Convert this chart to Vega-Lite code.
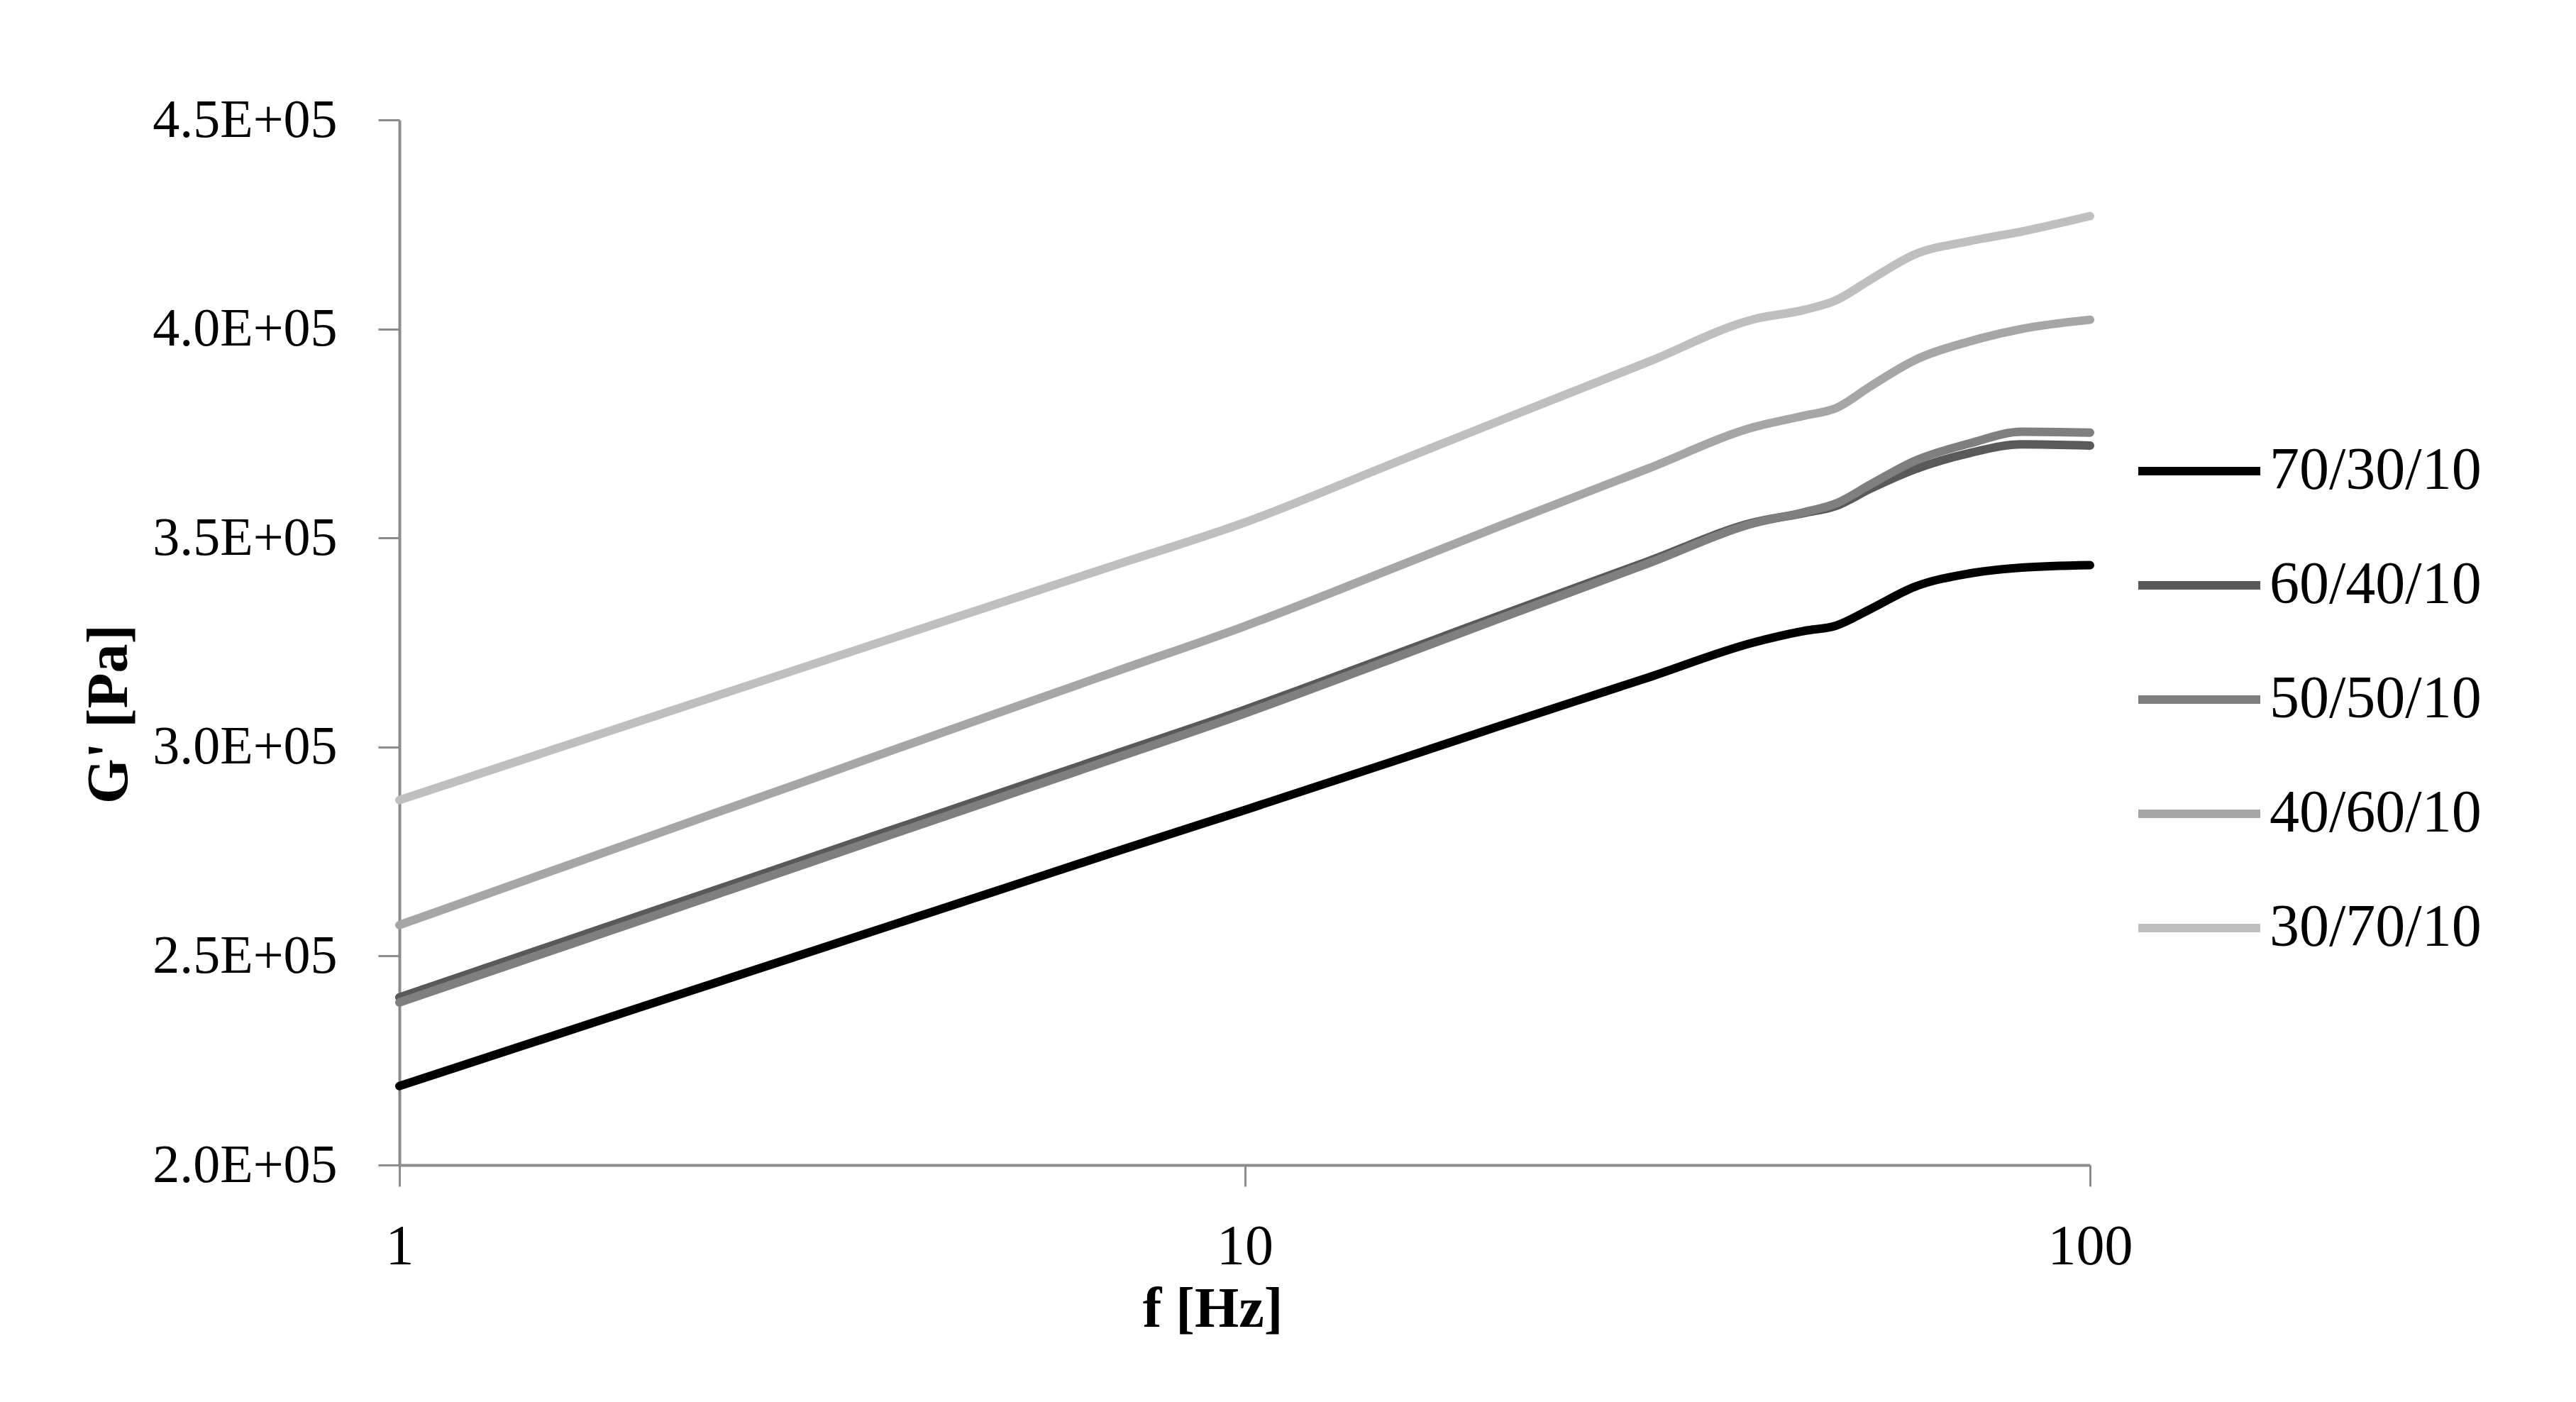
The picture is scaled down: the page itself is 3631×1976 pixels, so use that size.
{
  "$schema": "https://vega.github.io/schema/vega-lite/v6.json",
  "autosize": {"type": "none"},
  "width": 2383,
  "height": 1473,
  "padding": {"left": 563, "top": 169, "right": 685, "bottom": 334},
  "background": "white",
  "config": {
    "view": {"stroke": null},
    "font": "Liberation Serif",
    "axis": {
      "grid": false,
      "domainColor": "#8c8c8c",
      "domainWidth": 4,
      "tickColor": "#8c8c8c",
      "tickWidth": 3,
      "tickSize": 30,
      "labelFont": "Liberation Serif",
      "labelFontSize": 80,
      "labelColor": "black",
      "labelLimit": 1000,
      "titleFont": "Liberation Serif",
      "titleFontSize": 82,
      "titleFontWeight": "bold",
      "titleColor": "black"
    }
  },
  "data": {
    "values": [
      {"f": 1, "G": 218900, "s": "70/30/10"},
      {"f": 2, "G": 238800, "s": "70/30/10"},
      {"f": 3, "G": 250400, "s": "70/30/10"},
      {"f": 5, "G": 265100, "s": "70/30/10"},
      {"f": 7, "G": 274800, "s": "70/30/10"},
      {"f": 10, "G": 284900, "s": "70/30/10"},
      {"f": 15, "G": 296600, "s": "70/30/10"},
      {"f": 20, "G": 305000, "s": "70/30/10"},
      {"f": 30, "G": 316600, "s": "70/30/10"},
      {"f": 40, "G": 325000, "s": "70/30/10"},
      {"f": 46, "G": 327800, "s": "70/30/10"},
      {"f": 50, "G": 329000, "s": "70/30/10"},
      {"f": 55, "G": 333000, "s": "70/30/10"},
      {"f": 62, "G": 338300, "s": "70/30/10"},
      {"f": 72, "G": 341500, "s": "70/30/10"},
      {"f": 83, "G": 342900, "s": "70/30/10"},
      {"f": 100, "G": 343500, "s": "70/30/10"},

      {"f": 1, "G": 240100, "s": "60/40/10"},
      {"f": 2, "G": 260800, "s": "60/40/10"},
      {"f": 3, "G": 272900, "s": "60/40/10"},
      {"f": 5, "G": 288200, "s": "60/40/10"},
      {"f": 7, "G": 298200, "s": "60/40/10"},
      {"f": 10, "G": 308900, "s": "60/40/10"},
      {"f": 15, "G": 322000, "s": "60/40/10"},
      {"f": 20, "G": 331400, "s": "60/40/10"},
      {"f": 30, "G": 344400, "s": "60/40/10"},
      {"f": 40, "G": 353700, "s": "60/40/10"},
      {"f": 46, "G": 356000, "s": "60/40/10"},
      {"f": 50, "G": 357600, "s": "60/40/10"},
      {"f": 55, "G": 361800, "s": "60/40/10"},
      {"f": 62, "G": 366400, "s": "60/40/10"},
      {"f": 72, "G": 370300, "s": "60/40/10"},
      {"f": 83, "G": 372400, "s": "60/40/10"},
      {"f": 100, "G": 372100, "s": "60/40/10"},

      {"f": 1, "G": 238900, "s": "50/50/10"},
      {"f": 2, "G": 259600, "s": "50/50/10"},
      {"f": 3, "G": 271800, "s": "50/50/10"},
      {"f": 5, "G": 287100, "s": "50/50/10"},
      {"f": 7, "G": 297200, "s": "50/50/10"},
      {"f": 10, "G": 308000, "s": "50/50/10"},
      {"f": 15, "G": 321200, "s": "50/50/10"},
      {"f": 20, "G": 330700, "s": "50/50/10"},
      {"f": 30, "G": 343900, "s": "50/50/10"},
      {"f": 40, "G": 353500, "s": "50/50/10"},
      {"f": 46, "G": 356200, "s": "50/50/10"},
      {"f": 50, "G": 358200, "s": "50/50/10"},
      {"f": 55, "G": 362800, "s": "50/50/10"},
      {"f": 62, "G": 368400, "s": "50/50/10"},
      {"f": 72, "G": 372600, "s": "50/50/10"},
      {"f": 83, "G": 375400, "s": "50/50/10"},
      {"f": 100, "G": 375200, "s": "50/50/10"},

      {"f": 1, "G": 257400, "s": "40/60/10"},
      {"f": 2, "G": 279000, "s": "40/60/10"},
      {"f": 3, "G": 291600, "s": "40/60/10"},
      {"f": 5, "G": 307500, "s": "40/60/10"},
      {"f": 7, "G": 317900, "s": "40/60/10"},
      {"f": 10, "G": 328900, "s": "40/60/10"},
      {"f": 15, "G": 342800, "s": "40/60/10"},
      {"f": 20, "G": 352800, "s": "40/60/10"},
      {"f": 30, "G": 366600, "s": "40/60/10"},
      {"f": 40, "G": 376500, "s": "40/60/10"},
      {"f": 46, "G": 379300, "s": "40/60/10"},
      {"f": 50, "G": 381000, "s": "40/60/10"},
      {"f": 55, "G": 386300, "s": "40/60/10"},
      {"f": 62, "G": 392500, "s": "40/60/10"},
      {"f": 72, "G": 397000, "s": "40/60/10"},
      {"f": 83, "G": 400000, "s": "40/60/10"},
      {"f": 100, "G": 402200, "s": "40/60/10"},

      {"f": 1, "G": 287300, "s": "30/70/10"},
      {"f": 2, "G": 307300, "s": "30/70/10"},
      {"f": 3, "G": 319000, "s": "30/70/10"},
      {"f": 5, "G": 333700, "s": "30/70/10"},
      {"f": 7, "G": 343400, "s": "30/70/10"},
      {"f": 10, "G": 353700, "s": "30/70/10"},
      {"f": 15, "G": 367900, "s": "30/70/10"},
      {"f": 20, "G": 378000, "s": "30/70/10"},
      {"f": 30, "G": 392100, "s": "30/70/10"},
      {"f": 40, "G": 402300, "s": "30/70/10"},
      {"f": 46, "G": 404600, "s": "30/70/10"},
      {"f": 50, "G": 406800, "s": "30/70/10"},
      {"f": 55, "G": 411800, "s": "30/70/10"},
      {"f": 62, "G": 417800, "s": "30/70/10"},
      {"f": 72, "G": 421000, "s": "30/70/10"},
      {"f": 83, "G": 423300, "s": "30/70/10"},
      {"f": 100, "G": 427000, "s": "30/70/10"}
    ]
  },
  "mark": {"type": "line", "interpolate": "monotone", "strokeWidth": 12, "strokeCap": "round", "strokeJoin": "round"},
  "encoding": {
    "x": {
      "field": "f",
      "type": "quantitative",
      "scale": {"type": "log", "domain": [1, 100], "nice": false},
      "axis": {
        "title": "f [Hz]",
        "values": [1, 10, 100],
        "labelExpr": "format(datum.value, 'd')",
        "labelPadding": 46,
        "labelBaseline": "top",
        "labelFlush": false,
        "titleX": 1146,
        "titleY": 203,
        "titleFontSize": 80,
        "titleBaseline": "middle",
        "titleAlign": "center",
        "titleAnchor": null
      }
    },
    "y": {
      "field": "G",
      "type": "quantitative",
      "scale": {"domain": [200000, 450000], "nice": false, "zero": false},
      "axis": {
        "title": "G' [Pa]",
        "values": [200000, 250000, 300000, 350000, 400000, 450000],
        "labelExpr": "replace(format(datum.value, '.1e'), 'e+5', 'E+05')",
        "labelFontSize": 76,
        "labelPadding": 58,
        "labelFlush": false,
        "titleX": -410,
        "titleY": 837,
        "titleAngle": 270,
        "titleBaseline": "middle",
        "titleAlign": "center"
      }
    },
    "color": {
      "field": "s",
      "type": "nominal",
      "scale": {
        "domain": ["70/30/10", "60/40/10", "50/50/10", "40/60/10", "30/70/10"],
        "range": ["#000000", "#595959", "#7f7f7f", "#a6a6a6", "#bfbfbf"]
      },
      "legend": {
        "title": null,
        "orient": "none",
        "legendX": 2445,
        "legendY": 403,
        "padding": 0,
        "symbolType": "stroke",
        "symbolSize": 29584,
        "symbolStrokeWidth": 12,
        "labelFont": "Liberation Serif",
        "labelFontSize": 84,
        "labelColor": "black",
        "labelOffset": 7,
        "rowPadding": 27,
        "labelLimit": 600
      }
    }
  }
}
